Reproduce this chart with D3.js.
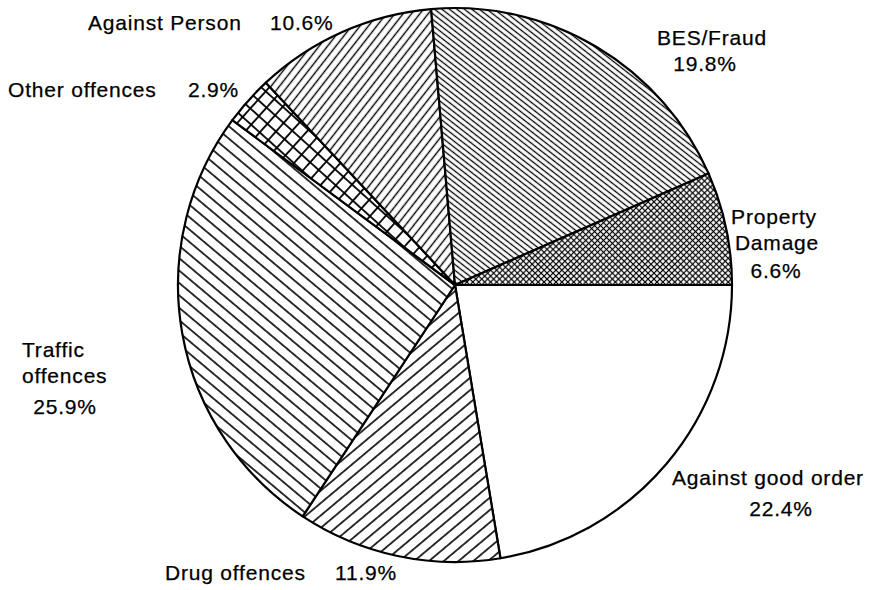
<!DOCTYPE html>
<html>
<head>
<meta charset="utf-8">
<script src="https://cdn.jsdelivr.net/npm/d3@7"></script>
<style>
  html, body { margin: 0; padding: 0; background: #fff; }
  svg { display: block; }
  text { font-family: "Liberation Sans", Arial, Helvetica, sans-serif; font-size: 21px; letter-spacing: 0.8px; fill: #000; stroke: #000; stroke-width: 0.25px; }
</style>
</head>
<body>
<svg id="chart" width="872" height="590"></svg>
<script>
// Offence categories, clockwise from 3 o'clock
const categories = ["Against good order", "Drug offences", "Traffic offences", "Other offences", "Against Person", "BES/Fraud", "Property Damage"];
const shares = [22.4, 11.9, 25.9, 2.9, 10.6, 19.8, 6.6];

// Hatch style per category: type, line spacing (px), rotation (deg), line weight
const hatchType = ["none", "lines", "lines", "cross", "lines", "lines", "cross"];
const hatchGap = [0, 9.5, 9.5, 11.5, 6.6, 4.6, 4.2];
const hatchAngle = [0, -40, 40, 42, -52, 38, 45];
const hatchWeight = [0, 1.6, 1.6, 1.8, 1.4, 1.3, 1.2];

// Label lines per category: text, x, baseline y, anchor
const labelLayout = [
  { i: 4, parts: [{ t: "Against Person", x: 88, y: 30 }, { t: "PCT", x: 270, y: 30 }] },
  { i: 3, parts: [{ t: "Other offences", x: 8, y: 97 }, { t: "PCT", x: 188, y: 97 }] },
  { i: 5, parts: [{ t: "BES/Fraud", x: 712, y: 45, a: "middle" }, { t: "PCT", x: 705, y: 71, a: "middle" }] },
  { i: 6, parts: [{ t: "Property", x: 774, y: 224, a: "middle" }, { t: "Damage", x: 777, y: 250, a: "middle" }, { t: "PCT", x: 776, y: 278, a: "middle" }] },
  { i: 2, parts: [{ t: "Traffic", x: 22, y: 357 }, { t: "offences", x: 22, y: 383 }, { t: "PCT", x: 65, y: 414, a: "middle" }] },
  { i: 1, parts: [{ t: "Drug offences", x: 165, y: 580 }, { t: "PCT", x: 335, y: 580 }] },
  { i: 0, parts: [{ t: "Against good order", x: 768, y: 485, a: "middle" }, { t: "PCT", x: 781, y: 516, a: "middle" }] }
];

const cx = 455, cy = 285, radius = 277;

const svg = d3.select("#chart");
const defs = svg.append("defs");

// Build one hatch pattern per category
hatchType.forEach((type, k) => {
  if (type === "none") return;
  const g = hatchGap[k];
  const p = defs.append("pattern")
    .attr("id", "hatch" + k)
    .attr("patternUnits", "userSpaceOnUse")
    .attr("width", g)
    .attr("height", g)
    .attr("patternTransform", `rotate(${hatchAngle[k]})`);
  p.append("rect").attr("width", g).attr("height", g).attr("fill", "#fff");
  p.append("line")
    .attr("x1", 0).attr("x2", g).attr("y1", g / 2).attr("y2", g / 2)
    .attr("stroke", "#000").attr("stroke-width", hatchWeight[k]);
  if (type === "cross") {
    p.append("line")
      .attr("y1", 0).attr("y2", g).attr("x1", g / 2).attr("x2", g / 2)
      .attr("stroke", "#000").attr("stroke-width", hatchWeight[k]);
  }
});

const pie = d3.pie()
  .sort(null)
  .value(d => d)
  .startAngle(Math.PI / 2)
  .endAngle(Math.PI / 2 + 2 * Math.PI);

const arc = d3.arc().innerRadius(0).outerRadius(radius);

const g = svg.append("g").attr("transform", `translate(${cx},${cy})`);

g.selectAll("path.slice")
  .data(pie(shares))
  .join("path")
  .attr("class", "slice")
  .attr("d", arc)
  .attr("fill", (d, k) => hatchType[k] === "none" ? "#fff" : `url(#hatch${k})`)
  .attr("stroke", "#000")
  .attr("stroke-width", 2.2)
  .attr("stroke-linejoin", "round");

// Category and percentage labels
const fmt = v => v.toFixed(1) + "%";
labelLayout.forEach(L => {
  L.parts.forEach(p => {
    svg.append("text")
      .attr("x", p.x)
      .attr("y", p.y)
      .attr("text-anchor", p.a || "start")
      .text(p.t === "PCT" ? fmt(shares[L.i]) : p.t);
  });
});
</script>
</body>
</html>
